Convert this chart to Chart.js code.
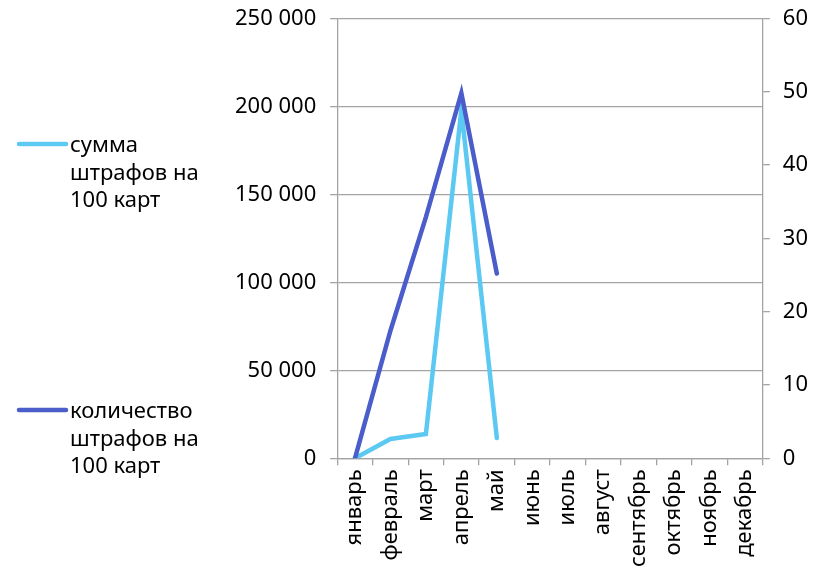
<!DOCTYPE html>
<html>
<head>
<meta charset="utf-8">
<script src="https://cdn.jsdelivr.net/npm/chart.js@4"></script>
<style>
  html, body { margin: 0; padding: 0; background: #fff; }
  #wrap { width: 821px; height: 577px; }
</style>
</head>
<body>
<div id="wrap"><canvas id="chart" width="821" height="577"></canvas></div>
<script>
// data
const months = ["январь", "февраль", "март", "апрель", "май", "июнь", "июль", "август", "сентябрь", "октябрь", "ноябрь", "декабрь"];
const sumFines = [0, 11000, 13800, 198000, 11500, null, null, null, null, null, null, null];
const countFines = [0, 17.4, 32.9, 49.8, 25.2, null, null, null, null, null, null, null];
const sumLabel = ["сумма", "штрафов на", "100 карт"];
const countLabel = ["количество", "штрафов на", "100 карт"];

const FONT = "'Noto Sans', 'DejaVu Sans', sans-serif";
const GRID = "#a3a3a3";

// legend drawn at the left side, text wrapped like the original
const sideLegend = {
  id: "sideLegend",
  afterDraw(chart, args, opts) {
    const ctx = chart.ctx;
    ctx.save();
    chart.data.datasets.forEach((ds, i) => {
      const y = opts.rows[i];
      ctx.strokeStyle = ds.borderColor;
      ctx.lineWidth = 4.5;
      ctx.lineCap = "round";
      ctx.beginPath();
      ctx.moveTo(opts.x, y);
      ctx.lineTo(opts.x + 47, y);
      ctx.stroke();
      ctx.fillStyle = "#000";
      ctx.font = "22px " + FONT;
      ctx.textBaseline = "middle";
      ds.lines.forEach((t, k) => ctx.fillText(t, opts.x + 51, y + 2 + k * 27.5));
    });
    ctx.restore();
  }
};

new Chart(document.getElementById("chart"), {
  type: "line",
  data: {
    labels: months,
    datasets: [
      {
        label: sumLabel.join(" "),
        lines: sumLabel,
        data: sumFines,
        yAxisID: "y",
        borderColor: "#5bc9f1",
        backgroundColor: "#5bc9f1",
        borderWidth: 4.5,
        pointRadius: 0,
        tension: 0,
        borderCapStyle: "round",
        order: 1
      },
      {
        label: countLabel.join(" "),
        lines: countLabel,
        data: countFines,
        yAxisID: "y1",
        borderColor: "#4a5dca",
        backgroundColor: "#4a5dca",
        borderWidth: 4.5,
        pointRadius: 0,
        tension: 0,
        borderCapStyle: "round",
        order: 0
      }
    ]
  },
  options: {
    responsive: false,
    animation: false,
    layout: { padding: { left: 221, right: 0, top: 0, bottom: 6 } },
    scales: {
      x: {
        offset: true,
        grid: { offset: true, drawOnChartArea: false, color: GRID, tickLength: 7, lineWidth: 1.3 },
        border: { color: GRID, width: 1.3 },
        ticks: { color: "#000", font: { family: FONT, size: 22 }, maxRotation: 90, minRotation: 90, padding: 4, autoSkip: false }
      },
      y: {
        position: "left",
        min: 0,
        max: 250000,
        grid: { color: GRID, tickLength: 7, lineWidth: 1.3 },
        border: { color: GRID, width: 1.3 },
        ticks: {
          stepSize: 50000,
          color: "#000",
          padding: 14,
          font: { family: FONT, size: 22, lineHeight: 0.4 },
          callback: v => String(v).replace(/\B(?=(\d{3})+(?!\d))/g, " ")
        }
      },
      y1: {
        position: "right",
        min: 0,
        max: 60,
        grid: { drawOnChartArea: false, color: GRID, tickLength: 7, lineWidth: 1.3 },
        border: { color: GRID, width: 1.3 },
        ticks: { stepSize: 10, color: "#000", padding: 13, font: { family: FONT, size: 22, lineHeight: 0.4 } }
      }
    },
    plugins: {
      legend: { display: false },
      tooltip: { enabled: false },
      sideLegend: { x: 19, rows: [144, 410] }
    }
  },
  plugins: [sideLegend]
});
</script>
</body>
</html>
